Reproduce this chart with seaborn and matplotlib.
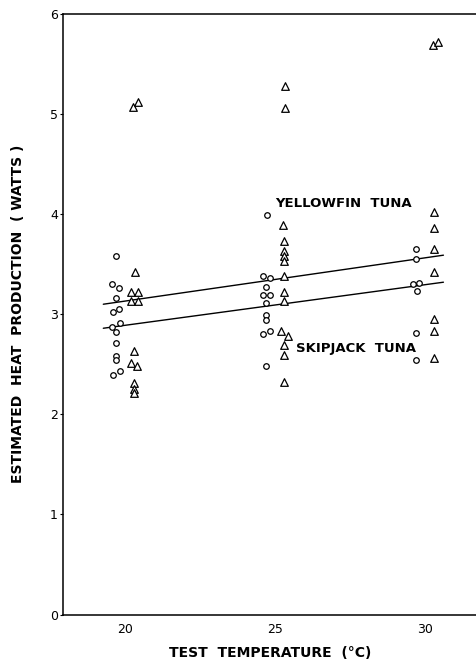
import matplotlib
matplotlib.use("Agg")
import pandas as pd
import matplotlib.pyplot as plt
import seaborn as sns

# skipjack tuna (circles)
skj_temp = [19.70, 19.58, 19.81, 19.72, 19.81, 19.61, 19.83, 19.56, 19.70, 19.70, 19.70, 19.70, 19.83, 19.59,
            24.74, 24.61, 24.83, 24.72, 24.61, 24.83, 24.72, 24.72, 24.72, 24.61, 24.83, 24.72,
            29.72, 29.72, 29.61, 29.83, 29.74, 29.72, 29.72]
skj_heat = [3.58, 3.30, 3.26, 3.16, 3.05, 3.02, 2.91, 2.87, 2.82, 2.71, 2.58, 2.54, 2.43, 2.39,
            3.99, 3.38, 3.36, 3.27, 3.19, 3.19, 3.11, 2.99, 2.94, 2.80, 2.83, 2.48,
            3.65, 3.55, 3.30, 3.31, 3.23, 2.81, 2.54]

# yellowfin tuna (triangles)
yft_temp = [20.26, 20.44, 20.33, 20.20, 20.44, 20.20, 20.44, 20.30, 20.19, 20.42, 20.30, 20.30, 20.30,
            25.34, 25.34, 25.28, 25.32, 25.32, 25.32, 25.32, 25.32, 25.32, 25.32, 25.22, 25.44, 25.32, 25.32, 25.32,
            30.28, 30.44, 30.33, 30.33, 30.33, 30.33, 30.33, 30.33, 30.33]
yft_heat = [5.07, 5.12, 3.42, 3.22, 3.22, 3.13, 3.13, 2.63, 2.51, 2.48, 2.31, 2.25, 2.21,
            5.28, 5.06, 3.89, 3.73, 3.63, 3.58, 3.53, 3.38, 3.22, 3.13, 2.83, 2.78, 2.69, 2.59, 2.32,
            5.69, 5.72, 4.02, 3.86, 3.65, 3.42, 2.95, 2.83, 2.56]

# fitted regression lines
fit_temp = [19.28, 30.63]
yft_fit = [3.10, 3.59]
skj_fit = [2.86, 3.32]

skj = pd.DataFrame({"temp": skj_temp, "heat": skj_heat})
yft = pd.DataFrame({"temp": yft_temp, "heat": yft_heat})

sns.set_style("white")
plt.rcParams["font.family"] = ["DejaVu Sans"]
plt.rcParams["text.color"] = "black"
plt.rcParams["axes.labelcolor"] = "black"
plt.rcParams["xtick.color"] = "black"
plt.rcParams["ytick.color"] = "black"

fig = plt.figure(figsize=(4.77, 6.64), dpi=100)
ax = fig.add_axes([0.133, 0.0745, 0.867, 0.9045])

sns.lineplot(x=fit_temp, y=yft_fit, color="black", lw=1.0, ax=ax)
sns.lineplot(x=fit_temp, y=skj_fit, color="black", lw=1.0, ax=ax)
sns.scatterplot(data=skj, x="temp", y="heat", marker="o", s=16, color="white",
                edgecolor="black", linewidth=0.9, ax=ax, zorder=3)
sns.scatterplot(data=yft, x="temp", y="heat", marker="^", s=30, color="white",
                edgecolor="black", linewidth=0.9, ax=ax, zorder=3)

ax.text(25.0, 4.11, "YELLOWFIN  TUNA", fontsize=9.5, fontweight="bold", ha="left", va="center")
ax.text(25.72, 2.66, "SKIPJACK  TUNA", fontsize=9.5, fontweight="bold", ha="left", va="center")

ax.set_xlim(17.95, 31.75)
ax.set_ylim(0, 6)
ax.set_xticks([20, 25, 30])
ax.set_yticks([0, 1, 2, 3, 4, 5, 6])
ax.tick_params(axis="x", length=0, pad=6, labelsize=9)
ax.tick_params(axis="y", length=2, width=0.8, pad=2, labelsize=9, direction="out", left=True)
ax.set_xlabel("TEST  TEMPERATURE  (°C)", fontsize=10, fontweight="bold", labelpad=7)
ax.set_ylabel("ESTIMATED  HEAT  PRODUCTION  ( WATTS )", fontsize=10, fontweight="bold", labelpad=18)

for side in ["left", "bottom", "top"]:
    ax.spines[side].set_color("black")
    ax.spines[side].set_linewidth(1.1)
ax.spines["right"].set_visible(False)

plt.savefig("out.png", dpi=100)
